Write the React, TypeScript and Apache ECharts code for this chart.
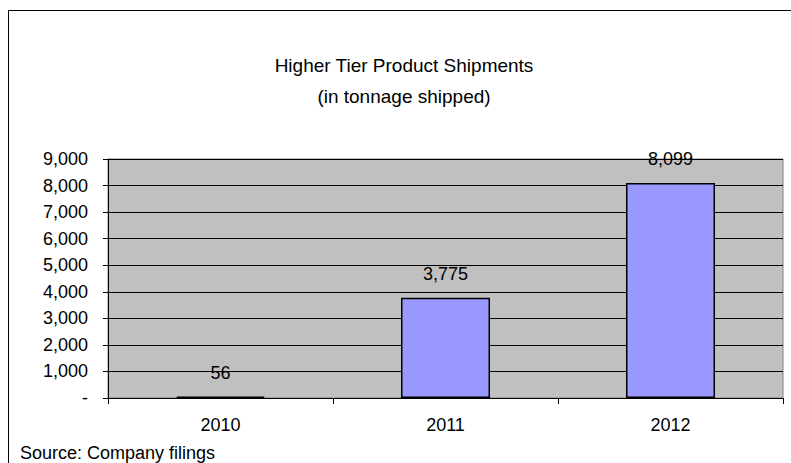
import React, { useEffect, useRef } from "react";
import * as echarts from "echarts";

const categories = ["2010", "2011", "2012"];
const shipments = [56, 3775, 8099];
const titleLines = ["Higher Tier Product Shipments", "(in tonnage shipped)"];
const sourceText = "Source: Company filings";

const FONT = "Liberation Sans, Arial, sans-serif";
const FS = 18;

export default function App() {
  const ref = useRef<HTMLDivElement>(null);
  useEffect(() => {
    document.body.style.margin = "0";
    const chart = echarts.init(ref.current!, null, { renderer: "svg" });
    chart.setOption({
      animation: false,
      backgroundColor: "#ffffff",
      textStyle: { fontFamily: FONT },
      title: {
        text: titleLines.join("\n"),
        left: 399,
        top: 45,
        textAlign: "center",
        textStyle: {
          fontFamily: FONT,
          fontSize: 19,
          fontWeight: "normal",
          color: "#000",
          lineHeight: 31,
        },
      },
      graphic: [
        {
          type: "rect",
          shape: { x: 8.5, y: 10.5, width: 800, height: 470 },
          style: { fill: "none", stroke: "#000", lineWidth: 1 },
          z: 10,
        },
        {
          type: "text",
          left: 20,
          top: 444,
          style: { text: sourceText, font: `${FS}px ${FONT}`, fill: "#000" },
        },
      ],
      grid: {
        left: 108,
        right: 8,
        top: 159,
        bottom: 65,
        show: true,
        backgroundColor: "#C0C0C0",
        borderColor: "#808080",
        borderWidth: 1,
      },
      xAxis: {
        type: "category",
        data: categories,
        axisLine: { show: true, lineStyle: { color: "#000", width: 1 } },
        axisTick: { show: true, alignWithLabel: false, length: 6, lineStyle: { color: "#000" } },
        axisLabel: { fontFamily: FONT, fontSize: FS, color: "#000", margin: 18 },
      },
      yAxis: {
        type: "value",
        min: 0,
        max: 9000,
        interval: 1000,
        axisLine: { show: true, lineStyle: { color: "#000", width: 1 } },
        axisTick: { show: true, length: 5, lineStyle: { color: "#000" } },
        axisLabel: {
          fontFamily: FONT,
          fontSize: FS,
          color: "#000",
          margin: 20,
          formatter: (v: number) => (v === 0 ? "-" : v.toLocaleString("en-US")),
        },
        splitLine: { show: true, lineStyle: { color: "#000", width: 1 } },
      },
      series: [
        {
          type: "bar",
          data: shipments,
          barWidth: 89,
          itemStyle: { color: "#9999FF", borderColor: "#000", borderWidth: 1.5 },
          label: {
            show: true,
            position: "top",
            distance: 15,
            fontFamily: FONT,
            fontSize: FS,
            color: "#000",
            formatter: (p: any) => Number(p.value).toLocaleString("en-US"),
          },
        },
      ],
    });
    return () => chart.dispose();
  }, []);
  return <div ref={ref} style={{ width: 791, height: 463 }} />;
}
